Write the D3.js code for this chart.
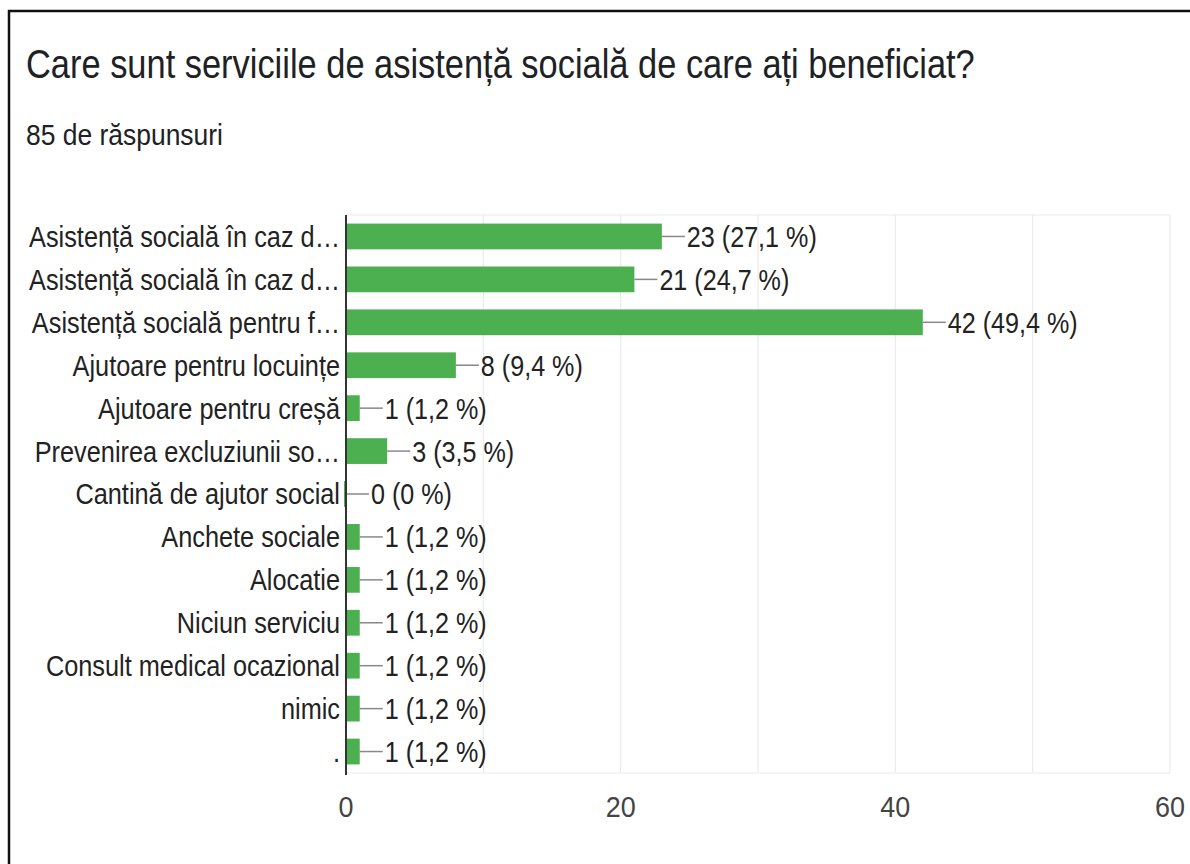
<!DOCTYPE html>
<html>
<head>
<meta charset="utf-8">
<script src="https://cdn.jsdelivr.net/npm/d3@7/dist/d3.min.js"></script>
<style>
  html, body { margin: 0; padding: 0; background: #fff; }
  svg text { font-family: "Liberation Sans", Arial, sans-serif; }
  .sq { transform-box: fill-box; }
</style>
</head>
<body>
<svg id="chart" width="1190" height="864"></svg>
<script>
const titleText = "Care sunt serviciile de asistență socială de care ați beneficiat?";
const subtitleText = "85 de răspunsuri";
const categories = [
  "Asistență socială în caz d…",
  "Asistență socială în caz d…",
  "Asistență socială pentru f…",
  "Ajutoare pentru locuințe",
  "Ajutoare pentru creșă",
  "Prevenirea excluziunii so…",
  "Cantină de ajutor social",
  "Anchete sociale",
  "Alocatie",
  "Niciun serviciu",
  "Consult medical ocazional",
  "nimic",
  "."
];
const counts = [23, 21, 42, 8, 1, 3, 0, 1, 1, 1, 1, 1, 1];
const percents = ["27,1", "24,7", "49,4", "9,4", "1,2", "3,5", "0", "1,2", "1,2", "1,2", "1,2", "1,2", "1,2"];
const xTicks = [0, 20, 40, 60];
const xGrid = [0, 10, 20, 30, 40, 50, 60];

const svg = d3.select("#chart");

// horizontal squeeze of each kind of text in the reference (fitted to sample widths)
function fitScale(str, size, target) {
  const t = svg.append("text").attr("font-size", size).text(str);
  const w = t.node().getComputedTextLength();
  t.remove();
  return target / w;
}
const FS = { title: 41, sub: 29, label: 29, value: 29, tick: 29 };
const SX = {
  title: fitScale(titleText, FS.title, 949),
  sub: fitScale(subtitleText, FS.sub, 197),
  label: fitScale("Asistență socială în caz d…", FS.label, 311),
  value: fitScale("23 (27,1 %)", FS.value, 130),
  tick: fitScale("60", FS.tick, 30)
};

const pLeft = 346, pRight = 1170, pTop = 215, pBottom = 773;
const x = d3.scaleLinear().domain([0, 60]).range([pLeft, pRight]);
const y = d3.scaleBand().domain(d3.range(categories.length)).range([pTop, pBottom]).paddingInner(0.4).paddingOuter(0.2);

// frame
svg.append("line").attr("x1", 9).attr("x2", 9).attr("y1", 10).attr("y2", 864)
  .attr("stroke", "#111").attr("stroke-width", 2.5);
svg.append("line").attr("x1", 8).attr("x2", 1190).attr("y1", 11).attr("y2", 11)
  .attr("stroke", "#111").attr("stroke-width", 2.5);

function sqText(sel, anchor, s) {
  sel.attr("class", "sq")
    .style("transform-origin", anchor === "end" ? "right center" : anchor === "middle" ? "center center" : "left center")
    .style("transform", `scaleX(${s})`);
  return sel;
}

// title + subtitle
sqText(svg.append("text").attr("x", 26).attr("y", 78)
  .attr("font-size", FS.title).attr("fill", "#202124").text(titleText), "start", SX.title);
sqText(svg.append("text").attr("x", 26).attr("y", 145)
  .attr("font-size", FS.sub).attr("fill", "#202124").text(subtitleText), "start", SX.sub);

// grid
const g = svg.append("g");
g.selectAll(".grid").data(xGrid).join("line")
  .attr("x1", d => x(d)).attr("x2", d => x(d))
  .attr("y1", pTop).attr("y2", pBottom)
  .attr("stroke", "#ebebeb").attr("stroke-width", 1.2);
g.append("line").attr("x1", pLeft).attr("x2", pRight).attr("y1", pTop).attr("y2", pTop)
  .attr("stroke", "#ebebeb").attr("stroke-width", 1.2);
g.append("line").attr("x1", pLeft).attr("x2", pRight).attr("y1", pBottom).attr("y2", pBottom)
  .attr("stroke", "#ebebeb").attr("stroke-width", 1.2);

// bars
const rows = g.selectAll(".row").data(counts).join("g");
rows.append("rect")
  .attr("x", (d) => d > 0 ? x(0) : x(0) - 2)
  .attr("y", (d, i) => y(i))
  .attr("width", d => d > 0 ? x(d) - x(0) : 2)
  .attr("height", y.bandwidth())
  .attr("fill", "#4caf50");

// leader lines
rows.append("line")
  .attr("x1", d => x(d)).attr("x2", d => x(d) + 23)
  .attr("y1", (d, i) => y(i) + y.bandwidth() / 2)
  .attr("y2", (d, i) => y(i) + y.bandwidth() / 2)
  .attr("stroke", "#888").attr("stroke-width", 1.5);

// value labels
rows.each(function(d, i) {
  sqText(d3.select(this).append("text")
    .attr("x", x(d) + 25)
    .attr("y", y(i) + y.bandwidth() / 2)
    .attr("dy", "0.36em")
    .attr("font-size", FS.value).attr("fill", "#222")
    .text(`${d} (${percents[i]} %)`), "start", SX.value);
});

// axis line
g.append("line").attr("x1", pLeft).attr("x2", pLeft).attr("y1", pTop).attr("y2", pBottom + 2)
  .attr("stroke", "#333").attr("stroke-width", 2);

// category labels
categories.forEach((c, i) => {
  sqText(g.append("text")
    .attr("x", pLeft - 6)
    .attr("y", y(i) + y.bandwidth() / 2)
    .attr("dy", "0.36em")
    .attr("text-anchor", "end")
    .attr("font-size", FS.label).attr("fill", "#222")
    .text(c), "end", SX.label);
});

// x tick labels
xTicks.forEach(t => {
  sqText(g.append("text")
    .attr("x", x(t)).attr("y", 817)
    .attr("text-anchor", "middle")
    .attr("font-size", FS.tick).attr("fill", "#444")
    .text(t), "middle", SX.tick);
});
</script>
</body>
</html>
